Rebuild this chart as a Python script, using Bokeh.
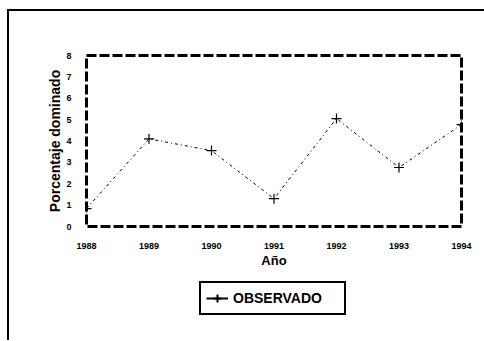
from bokeh.plotting import figure
from bokeh.layouts import column
from bokeh.models import Legend, LegendItem, ColumnDataSource, FixedTicker
from bokeh.embed import file_html
from bokeh.resources import INLINE

years = [1988, 1989, 1990, 1991, 1992, 1993, 1994]
observado = [0.84, 4.1, 3.55, 1.3, 5.05, 2.76, 4.77]
y_ticks = [0, 1, 2, 3, 4, 5, 6, 7, 8]
series_name = "OBSERVADO"

src = ColumnDataSource(dict(x=years, y=observado))

p = figure(width=475, height=259, output_backend="svg", toolbar_location=None,
           x_range=(1988, 1994), y_range=(0, 8),
           min_border_left=77, min_border_right=23, min_border_top=44, min_border_bottom=40)
p.outline_line_color = "black"
p.outline_line_width = 3
p.outline_line_dash = "10 3"
p.xgrid.visible = False
p.ygrid.visible = False
p.background_fill_color = "white"
p.border_fill_color = "white"

for ax in (p.xaxis[0], p.yaxis[0]):
    ax.axis_line_color = None
    ax.major_tick_line_color = None
    ax.minor_tick_line_color = None
    ax.major_label_text_font = "Liberation Sans"
    ax.major_label_text_font_style = "bold"
    ax.major_label_text_font_size = "9px"
    ax.major_label_text_color = "black"
    ax.axis_label_text_font = "Liberation Sans"
    ax.axis_label_text_font_style = "bold"
    ax.axis_label_text_color = "black"

p.xaxis.ticker = FixedTicker(ticks=years)
p.yaxis.ticker = FixedTicker(ticks=y_ticks)
p.xaxis.major_label_standoff = 10
p.yaxis.major_label_standoff = 9
p.xaxis.axis_label = "Año"
p.xaxis.axis_label_text_font_size = "13px"
p.xaxis.axis_label_standoff = 1
p.yaxis.axis_label = "Porcentaje dominado"
p.yaxis.axis_label_text_font_size = "14px"
p.yaxis.axis_label_standoff = 0

ln = p.line("x", "y", source=src, line_color="black", line_width=1, line_dash="3 3 1 3")
mk = p.scatter("x", "y", source=src, marker="cross", size=10, line_color="black", line_width=1.2)

# small panel below that holds the legend
q = figure(width=475, height=70, output_backend="svg", toolbar_location=None,
           x_range=(0, 1), y_range=(0, 1),
           min_border=0, min_border_left=0, min_border_right=0,
           min_border_top=0, min_border_bottom=0)
q.axis.visible = False
q.grid.visible = False
q.outline_line_color = None
q.background_fill_color = "white"
q.border_fill_color = "white"
ln2 = q.line("x", "y", source=src, line_color="black", line_width=2, visible=False)
mk2 = q.scatter("x", "y", source=src, marker="cross", size=11, line_color="black",
                line_width=2, visible=False)

legend = Legend(items=[LegendItem(label=series_name, renderers=[ln2, mk2])],
                location=(113, 25))
legend.border_line_color = "black"
legend.border_line_width = 2
legend.border_line_alpha = 1
legend.label_text_font = "Liberation Sans"
legend.label_text_font_style = "bold"
legend.label_text_font_size = "14px"
legend.label_text_color = "black"
legend.padding = 5
legend.glyph_width = 22
legend.label_width = 106
legend.label_standoff = 5
legend.margin = 0
legend.inactive_fill_alpha = 0
legend.background_fill_alpha = 1
q.add_layout(legend, "center")

layout = column(p, q, spacing=0)
layout.styles = {"margin-left": "7px", "margin-top": "9px",
                 "border-left": "2px solid black", "border-top": "2px solid black"}

open("out.html", "w").write(file_html(layout, INLINE))
